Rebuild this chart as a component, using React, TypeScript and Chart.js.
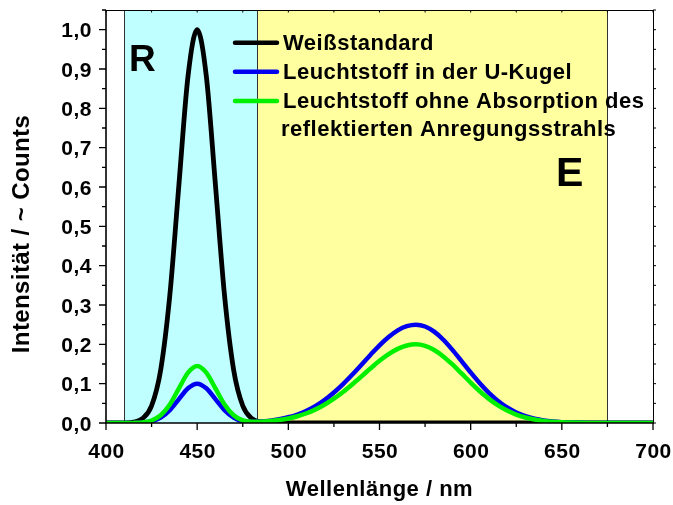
import React, { useEffect, useRef } from "react";
import { Chart, registerables } from "chart.js";

Chart.register(...registerables);

// ---- data ----
const wavelengths = [
  400, 405, 410, 415, 420, 425, 430, 435, 440, 445, 450, 455, 460, 465, 470, 475,
  480, 485, 490, 495, 500, 505, 510, 515, 520, 525, 530, 535, 540, 545, 550, 555,
  560, 565, 570, 575, 580, 585, 590, 595, 600, 605, 610, 615, 620, 625, 630, 635,
  640, 645, 650, 655, 660, 665, 670, 675, 680, 685, 690, 695, 700,
];

const weissstandard = [
  0, 0, 0.0003, 0.0022, 0.0111, 0.0439, 0.1353, 0.3247, 0.6065, 0.8825, 1.0, 0.8825,
  0.6065, 0.3247, 0.1353, 0.0439, 0.0111, 0.0022, 0.0003, 0, 0, 0, 0, 0, 0, 0, 0, 0,
  0, 0, 0, 0, 0, 0, 0, 0, 0, 0, 0, 0, 0, 0, 0, 0, 0, 0, 0, 0, 0, 0, 0, 0, 0, 0, 0, 0,
  0, 0, 0, 0, 0,
];

const leuchtstoffUKugel = [
  0, 0, 0, 0.0002, 0.0011, 0.0044, 0.0135, 0.0325, 0.0607, 0.0882, 0.1, 0.0882, 0.0607,
  0.0325, 0.0135, 0.0044, 0.0031, 0.0038, 0.006, 0.0095, 0.0145, 0.0215, 0.031,
  0.0432, 0.0588, 0.0775, 0.0988, 0.1225, 0.1475, 0.173, 0.1975, 0.2187, 0.2356,
  0.2463, 0.25, 0.2454, 0.2322, 0.2117, 0.186, 0.1575, 0.1285, 0.101, 0.0766, 0.0559,
  0.0394, 0.0267, 0.0175, 0.011, 0.0067, 0.0039, 0.0022, 0.0012, 0.0006, 0.0003,
  0.0001, 0, 0, 0, 0, 0, 0,
];

const leuchtstoffOhneAbsorption = [
  0, 0, 0, 0.0003, 0.0016, 0.0064, 0.0196, 0.0471, 0.088, 0.128, 0.145, 0.128, 0.088,
  0.0471, 0.0196, 0.0064, 0.0032, 0.0031, 0.0048, 0.0076, 0.0116, 0.0172, 0.0248,
  0.0346, 0.047, 0.062, 0.079, 0.098, 0.118, 0.1384, 0.158, 0.1749, 0.1885,
  0.1971, 0.2, 0.1963, 0.1857, 0.1693, 0.1488, 0.126, 0.1028, 0.0808, 0.0613, 0.0447,
  0.0315, 0.0213, 0.014, 0.0088, 0.0053, 0.0031, 0.0018, 0.001, 0.0005, 0.0002, 0, 0,
  0, 0, 0, 0, 0,
];

const xTickValues = [400, 450, 500, 550, 600, 650, 700];
const xMinorTickValues = [425, 475, 525, 575, 625, 675];
const yTickValues = [0, 0.1, 0.2, 0.3, 0.4, 0.5, 0.6, 0.7, 0.8, 0.9, 1.0];
const yMinorTickValues = [0.05, 0.15, 0.25, 0.35, 0.45, 0.55, 0.65, 0.75, 0.85, 0.95, 1.05];

const regionR = [410, 483];
const regionE = [483, 675];

const seriesLabels = ["Weißstandard", "Leuchtstoff in der U-Kugel", "Leuchtstoff ohne Absorption des"];
const legendExtraLine = "reflektierten Anregungsstrahls";
const seriesColors = ["#000000", "#0000F0", "#00F000"];

const xTitle = "Wellenlänge / nm";
const yTitle = "Intensität / ~ Counts";

const FONT = '"Liberation Sans", Arial, Helvetica, sans-serif';

const decoPlugin = {
  id: "deco",
  beforeDatasetsDraw(chart: any) {
    const { ctx, chartArea: a, scales } = chart;
    const x = scales.x;
    const xr0 = x.getPixelForValue(regionR[0]);
    const xr1 = x.getPixelForValue(regionR[1]);
    const xe1 = x.getPixelForValue(regionE[1]);
    ctx.save();
    ctx.fillStyle = "#C0FFFF";
    ctx.fillRect(xr0, a.top, xr1 - xr0, a.bottom - a.top);
    ctx.fillStyle = "#FFFFA0";
    ctx.fillRect(xr1, a.top, xe1 - xr1, a.bottom - a.top);
    ctx.strokeStyle = "#333";
    ctx.lineWidth = 1;
    for (const px of [xr0, xr1, xe1]) {
      const p = Math.round(px) + 0.5;
      ctx.beginPath();
      ctx.moveTo(p, a.top);
      ctx.lineTo(p, a.bottom);
      ctx.stroke();
    }
    ctx.restore();
  },
  afterDraw(chart: any) {
    const { ctx, chartArea: a, scales } = chart;
    const x = scales.x;
    const y = scales.y;
    ctx.save();
    // frame
    ctx.strokeStyle = "#000";
    ctx.lineWidth = 1;
    ctx.beginPath();
    ctx.moveTo(a.left, a.top + 0.5);
    ctx.lineTo(a.right, a.top + 0.5);
    ctx.moveTo(a.right + 0.5, a.top);
    ctx.lineTo(a.right + 0.5, a.bottom);
    ctx.stroke();
    ctx.lineWidth = 1.6;
    ctx.beginPath();
    ctx.moveTo(a.left, a.top);
    ctx.lineTo(a.left, a.bottom);
    ctx.lineTo(a.right + 1, a.bottom);
    ctx.stroke();

    // ticks
    ctx.lineWidth = 1.3;
    ctx.beginPath();
    for (const v of xTickValues) {
      const p = x.getPixelForValue(v);
      ctx.moveTo(p, a.bottom);
      ctx.lineTo(p, a.bottom + 7);
    }
    for (const v of xMinorTickValues) {
      const p = x.getPixelForValue(v);
      ctx.moveTo(p, a.bottom);
      ctx.lineTo(p, a.bottom + 4);
    }
    for (const v of yTickValues) {
      const p = y.getPixelForValue(v);
      ctx.moveTo(a.left, p);
      ctx.lineTo(a.left - 7, p);
    }
    for (const v of yMinorTickValues) {
      const p = y.getPixelForValue(v);
      ctx.moveTo(a.left, p);
      ctx.lineTo(a.left - 4, p);
    }
    ctx.stroke();
    ctx.lineWidth = 1;
    ctx.beginPath();
    for (const v of [...xTickValues, ...xMinorTickValues]) {
      const p = x.getPixelForValue(v);
      ctx.moveTo(p, a.top);
      ctx.lineTo(p, a.top + 2.5);
    }
    for (const v of [...yTickValues, ...yMinorTickValues]) {
      const p = y.getPixelForValue(v);
      ctx.moveTo(a.right, p);
      ctx.lineTo(a.right + 3, p);
    }
    ctx.stroke();

    // tick labels
    ctx.fillStyle = "#000";
    ctx.font = `bold 21px ${FONT}`;
    ctx.letterSpacing = "0.5px";
    ctx.textBaseline = "alphabetic";
    ctx.textAlign = "right";
    for (const v of yTickValues) {
      const p = y.getPixelForValue(v);
      ctx.fillText(v.toFixed(1).replace(".", ","), a.left - 14, p + 7.5);
    }
    ctx.textAlign = "center";
    for (const v of xTickValues) {
      const p = x.getPixelForValue(v);
      ctx.fillText(String(v), p + 0.5, a.bottom + 34.5);
    }

    // axis titles
    ctx.font = `bold 22px ${FONT}`;
    ctx.letterSpacing = "0.5px";
    ctx.fillText(xTitle, (a.left + a.right) / 2, 496);
    ctx.save();
    ctx.translate(28.5, 234);
    ctx.rotate(-Math.PI / 2);
    ctx.font = `bold 24px ${FONT}`;
    ctx.letterSpacing = "0.4px";
    ctx.textAlign = "center";
    ctx.fillText(yTitle, 0, 0);
    ctx.restore();

    // legend
    const lineYs = [42.7, 71.7, 101];
    const textYs = [49.5, 78.5, 107.5];
    ctx.lineWidth = 4.5;
    ctx.lineCap = "round";
    for (let i = 0; i < 3; i++) {
      ctx.strokeStyle = seriesColors[i];
      ctx.beginPath();
      ctx.moveTo(235, lineYs[i]);
      ctx.lineTo(277, lineYs[i]);
      ctx.stroke();
    }
    ctx.fillStyle = "#000";
    ctx.font = `bold 22px ${FONT}`;
    ctx.letterSpacing = "0.5px";
    ctx.textAlign = "left";
    for (let i = 0; i < 3; i++) {
      ctx.fillText(seriesLabels[i], 283, textYs[i]);
    }
    ctx.fillText(legendExtraLine, 281, 135.5);

    // region letters
    ctx.letterSpacing = "0px";
    ctx.font = `bold 37px ${FONT}`;
    ctx.fillText("R", 129, 71);
    ctx.font = `bold 41px ${FONT}`;
    ctx.fillText("E", 556, 186);
    ctx.restore();
  },
};

export default function App() {
  const canvasRef = useRef<HTMLCanvasElement | null>(null);

  useEffect(() => {
    const canvas = canvasRef.current;
    if (!canvas) return;
    const mk = (vals: number[]) => wavelengths.map((w, i) => ({ x: w, y: vals[i] }));
    const chart = new Chart(canvas, {
      type: "line",
      data: {
        datasets: [
          {
            label: seriesLabels[0],
            data: mk(weissstandard),
            borderColor: seriesColors[0],
            borderWidth: 4.8,
            pointRadius: 0,
            cubicInterpolationMode: "monotone",
            order: 3,
          },
          {
            label: seriesLabels[1],
            data: mk(leuchtstoffUKugel),
            borderColor: seriesColors[1],
            borderWidth: 4.5,
            pointRadius: 0,
            cubicInterpolationMode: "monotone",
            order: 2,
          },
          {
            label: seriesLabels[2],
            data: mk(leuchtstoffOhneAbsorption),
            borderColor: seriesColors[2],
            borderWidth: 4.5,
            pointRadius: 0,
            cubicInterpolationMode: "monotone",
            order: 1,
          },
        ],
      },
      options: {
        responsive: false,
        animation: false,
        devicePixelRatio: 1,
        layout: { padding: { left: 106, right: 20, top: 10, bottom: 82 } },
        scales: {
          x: { type: "linear", min: 400, max: 700, display: false },
          y: { type: "linear", min: 0, max: 1.05, display: false },
        },
        plugins: {
          legend: { display: false },
          tooltip: { enabled: false },
        },
        elements: { line: { borderCapStyle: "round", borderJoinStyle: "round" } },
      } as any,
      plugins: [decoPlugin],
    });
    return () => chart.destroy();
  }, []);

  return (
    <div style={{ position: "absolute", left: 0, top: 0, width: 673, height: 505, background: "#fff" }}>
      <canvas ref={canvasRef} width={673} height={505} style={{ width: 673, height: 505 }} />
    </div>
  );
}
